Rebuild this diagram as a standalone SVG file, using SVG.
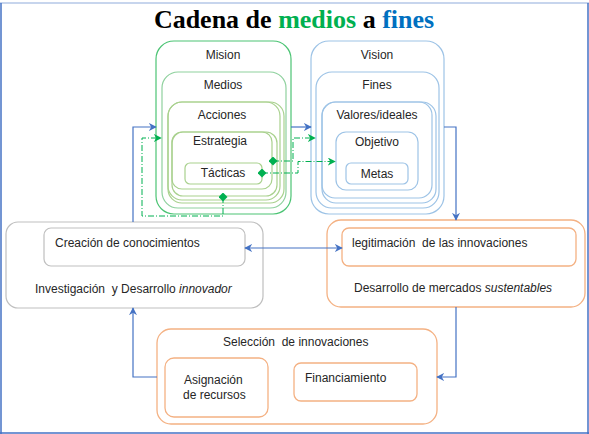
<svg xmlns="http://www.w3.org/2000/svg" width="589" height="434" viewBox="0 0 589 434">
<defs>
<style>
text{font-family:"Liberation Sans",Arial,sans-serif;font-size:12px;fill:#262626;white-space:pre}
.t{font-family:"Liberation Serif","Times New Roman",serif;font-size:26px;font-weight:bold;fill:#000}
.g1{fill:none;stroke:#4cc474;stroke-width:1.2}
.g3{fill:none;stroke:#8fd19e;stroke-width:1.2}
.g2{fill:none;stroke:#a9d18e;stroke-width:1.2}
.b1{fill:none;stroke:#9dc3e6;stroke-width:1.2}
.gr{fill:none;stroke:#bfbfbf;stroke-width:1.2}
.or{fill:none;stroke:#f4b183;stroke-width:1.3}
.bl{fill:none;stroke:#4472c4;stroke-width:1.2}
.gd{fill:none;stroke:#00b050;stroke-width:1;stroke-dasharray:6 2 1 2}
</style>
<marker id="ab" viewBox="0 0 10 10" refX="9" refY="5" markerWidth="8" markerHeight="8" orient="auto-start-reverse" markerUnits="userSpaceOnUse"><path d="M0,0 L10,5 L0,10 L3,5 Z" fill="#4472c4"/></marker>
<marker id="ag" viewBox="0 0 10 10" refX="9" refY="5" markerWidth="8" markerHeight="8" orient="auto" markerUnits="userSpaceOnUse"><path d="M0,0 L10,5 L0,10 L3,5 Z" fill="#00b050"/></marker>
<marker id="dg" viewBox="0 0 10 10" refX="5" refY="5" markerWidth="9" markerHeight="9" orient="auto" markerUnits="userSpaceOnUse"><path d="M0,5 L5,0 L10,5 L5,10 Z" fill="#00b050"/></marker>
</defs>
<rect width="589" height="434" fill="#ffffff"/>
<g id="frame">
<line x1="0" y1="3" x2="589" y2="3" stroke="#b4c7e7" stroke-width="1.5"/>
<line x1="1" y1="3" x2="1" y2="434" stroke="#4472c4" stroke-width="1.5"/>
<line x1="588" y1="3" x2="588" y2="434" stroke="#4472c4" stroke-width="1.5"/>
<line x1="0" y1="433" x2="589" y2="433" stroke="#4472c4" stroke-width="1.5"/>
</g>
<g id="title"><text class="t" x="294" y="28" text-anchor="middle">Cadena de <tspan fill="#00b050">medios</tspan> a <tspan fill="#0070c0">fines</tspan></text></g>
<g id="mision">
<rect class="g1" x="156" y="41" width="135" height="173" rx="18"/>
<text x="223" y="59" text-anchor="middle">Mision</text>
</g>
<g id="medios">
<rect class="g3" x="162" y="72" width="124" height="136" rx="16"/>
<text x="223" y="89" text-anchor="middle">Medios</text>
</g>
<g id="acciones">
<rect class="g2" x="168" y="102" width="116" height="101" rx="14"/>
<rect class="g2" x="168" y="102" width="112" height="98" rx="14"/>
<text x="222" y="119" text-anchor="middle">Acciones</text>
</g>
<g id="estrategia">
<rect class="g2" x="172" y="132" width="105" height="64" rx="11"/>
<rect class="g2" x="172" y="132" width="100" height="57" rx="10"/>
<text x="220" y="145" text-anchor="middle">Estrategia</text>
</g>
<g id="tacticas">
<rect class="g2" x="185" y="163" width="77" height="21" rx="5"/>
<text x="223" y="177" text-anchor="middle">Tácticas</text>
</g>
<g id="vision">
<rect class="b1" x="311" y="41" width="133" height="173" rx="18"/>
<text x="377" y="59" text-anchor="middle">Vision</text>
</g>
<g id="fines">
<rect class="b1" x="316" y="72" width="123" height="136" rx="16"/>
<text x="377" y="89" text-anchor="middle">Fines</text>
</g>
<g id="valores">
<rect class="b1" x="322" y="102" width="114" height="101" rx="14"/>
<rect class="b1" x="322" y="102" width="110" height="96" rx="13"/>
<text x="377" y="119" text-anchor="middle">Valores/ideales</text>
</g>
<g id="objetivo">
<rect class="b1" x="336" y="132" width="82" height="58" rx="10"/>
<text x="377" y="146" text-anchor="middle">Objetivo</text>
</g>
<g id="metas">
<rect class="b1" x="346" y="163" width="62" height="21" rx="5"/>
<text x="377" y="178" text-anchor="middle">Metas</text>
</g>
<g id="investigacion">
<rect class="gr" x="6" y="222" width="257" height="86" rx="12"/>
<rect class="gr" x="44" y="228" width="201" height="38" rx="7"/>
<text x="55" y="247">Creación de conocimientos</text>
<text x="35" y="293">Investigación  y Desarrollo <tspan font-style="italic">innovador</tspan></text>
</g>
<g id="desarrollo">
<rect class="or" x="327" y="220" width="258" height="87" rx="14"/>
<rect class="or" x="342" y="228" width="234" height="38" rx="7"/>
<text x="352" y="247">legitimación  de las innovaciones</text>
<text x="354" y="292">Desarrollo de mercados <tspan font-style="italic">sustentables</tspan></text>
</g>
<g id="seleccion">
<rect class="or" x="157" y="329" width="280" height="95" rx="14"/>
<text x="223" y="346">Selección  de innovaciones</text>
<rect class="or" x="165" y="358" width="103" height="59" rx="9"/>
<text x="184" y="384">Asignación</text>
<text x="183" y="399">de recursos</text>
<rect class="or" x="294" y="363" width="123" height="38" rx="7"/>
<text x="305" y="382">Financiamiento</text>
</g>
<g id="connectors">
<polyline class="bl" points="133,222 133,127 156,127" marker-end="url(#ab)"/>
<line class="bl" x1="291" y1="127" x2="311" y2="127" marker-end="url(#ab)"/>
<polyline class="bl" points="444,127 456,127 456,220" marker-end="url(#ab)"/>
<line class="bl" x1="245" y1="248" x2="342" y2="248" marker-start="url(#ab)" marker-end="url(#ab)"/>
<polyline class="bl" points="456,307 456,377 437,377" marker-end="url(#ab)"/>
<polyline class="bl" points="157,377 133,377 133,308" marker-end="url(#ab)"/>
<polyline class="gd" points="273,161 293,161 293,138 315,138" marker-start="url(#dg)" marker-end="url(#ag)"/>
<polyline class="gd" points="262,173 298,173 298,161.5 335,161.5" marker-start="url(#dg)" marker-end="url(#ag)"/>
<polyline class="gd" points="223,197 223,216 142,216 142,138 161,138" marker-start="url(#dg)" marker-end="url(#ag)"/>
</g>
</svg>
